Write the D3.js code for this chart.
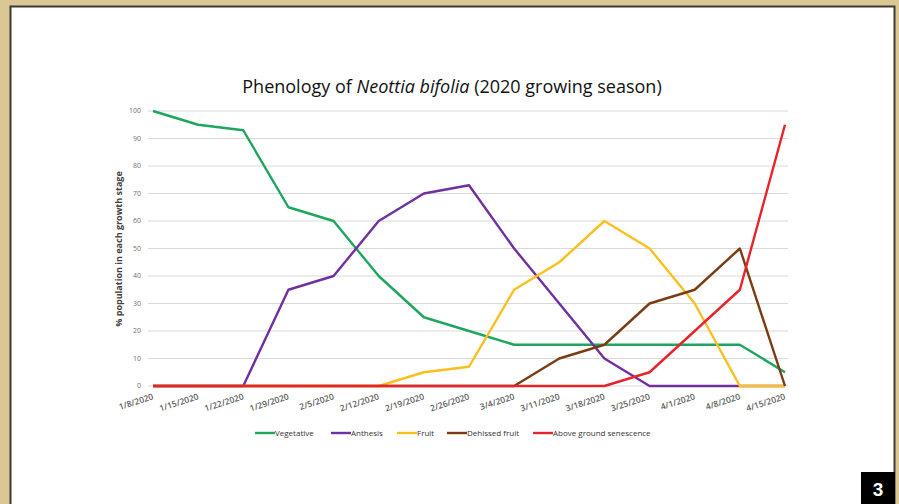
<!DOCTYPE html>
<html>
<head>
<meta charset="utf-8">
<script src="https://cdn.jsdelivr.net/npm/d3@7"></script>
<style>
  body { margin: 0; background: #dbc794; }
  svg { display: block; }
</style>
</head>
<body>
<svg></svg>
<script>
const width = 899;
const height = 504;

// Data
const dates = ["1/8/2020", "1/15/2020", "1/22/2020", "1/29/2020", "2/5/2020", "2/12/2020", "2/19/2020",
    "2/26/2020", "3/4/2020", "3/11/2020", "3/18/2020", "3/25/2020", "4/1/2020", "4/8/2020", "4/15/2020"];
const vegetative = [100, 95, 93, 65, 60, 40, 25, 20, 15, 15, 15, 15, 15, 15, 5];
const anthesis = [0, 0, 0, 35, 40, 60, 70, 73, 50, 30, 10, 0, 0, 0, 0];
const fruit = [0, 0, 0, 0, 0, 0, 5, 7, 35, 45, 60, 50, 30, 0, 0];
const dehisced = [0, 0, 0, 0, 0, 0, 0, 0, 0, 10, 15, 30, 35, 50, 0];
const senescence = [0, 0, 0, 0, 0, 0, 0, 0, 0, 0, 0, 5, 20, 35, 95];
const seriesNames = ["Vegetative", "Anthesis", "Fruit", "Dehissed fruit", "Above ground senescence"];
const yTicks = [0, 10, 20, 30, 40, 50, 60, 70, 80, 90, 100];

const colors = ["#1ea65e", "#7030a0", "#fcbf1e", "#7a3c14", "#e8242b"];
const series = [vegetative, anthesis, fruit, dehisced, senescence];

const svg = d3.select("svg")
    .attr("width", width)
    .attr("height", height);

// white panel with dark edge
svg.append("rect")
    .attr("x", 10.5).attr("y", 6.5)
    .attr("width", 884).attr("height", 500)
    .attr("fill", "#fff")
    .attr("stroke", "#3c3a33")
    .attr("stroke-width", 2);

const x = d3.scalePoint()
    .domain(dates)
    .range([153, 785]);

const y = d3.scaleLinear()
    .domain([0, 100])
    .range([386, 111]);

// gridlines
svg.append("g")
    .selectAll("line")
    .data(yTicks)
    .join("line")
    .attr("x1", 148).attr("x2", 788)
    .attr("y1", d => y(d)).attr("y2", d => y(d))
    .attr("stroke", "#d9d9d9")
    .attr("stroke-width", 1);

// y tick labels
svg.append("g")
    .selectAll("text")
    .data(yTicks)
    .join("text")
    .attr("x", 141)
    .attr("y", d => y(d))
    .attr("dy", "0.35em")
    .attr("text-anchor", "end")
    .attr("font-family", "Open Sans, sans-serif")
    .attr("font-size", 7)
    .attr("fill", "#6f6f6f")
    .text(d => d);

// x tick labels, slanted
svg.append("g")
    .selectAll("text")
    .data(dates)
    .join("text")
    .attr("transform", d => `translate(${x(d) + 1},${399}) rotate(-18)`)
    .attr("text-anchor", "end")
    .attr("font-family", "Open Sans, sans-serif")
    .attr("font-size", 8.5)
    .attr("font-weight", 600)
    .attr("fill", "#595959")
    .text(d => d);

// axis title
svg.append("text")
    .attr("transform", `translate(122,249) rotate(-90)`)
    .attr("text-anchor", "middle")
    .attr("font-family", "Open Sans, sans-serif")
    .attr("font-size", 9)
    .attr("font-weight", "bold")
    .attr("fill", "#404040")
    .text("% population in each growth stage");

// chart title
const title = svg.append("text")
    .attr("x", 452)
    .attr("y", 93)
    .attr("text-anchor", "middle")
    .attr("font-family", "Open Sans, sans-serif")
    .attr("font-size", 18)
    .attr("fill", "#111");
title.append("tspan").text("Phenology of ");
title.append("tspan").attr("font-style", "italic").text("Neottia bifolia");
title.append("tspan").text(" (2020 growing season)");

// lines, drawn so red sits on top
const line = d3.line()
    .x((d, i) => x(dates[i]))
    .y(d => y(d));

svg.append("g")
    .selectAll("path")
    .data(series)
    .join("path")
    .attr("d", d => line(d))
    .attr("fill", "none")
    .attr("stroke", (d, i) => colors[i])
    .attr("stroke-width", 2.4)
    .attr("stroke-linejoin", "round");

// legend
const legendX = [255, 331, 397, 447, 533];
const legend = svg.append("g")
    .selectAll("g")
    .data(seriesNames)
    .join("g")
    .attr("transform", (d, i) => `translate(${legendX[i]},433)`);

legend.append("line")
    .attr("x1", 0).attr("x2", 20)
    .attr("stroke", (d, i) => colors[i])
    .attr("stroke-width", 2.4);

legend.append("text")
    .attr("x", 20)
    .attr("dy", "0.35em")
    .attr("font-family", "Open Sans, sans-serif")
    .attr("font-size", 8)
    .attr("fill", "#333")
    .text(d => d);

// figure number badge
svg.append("rect")
    .attr("x", 861).attr("y", 472)
    .attr("width", 34).attr("height", 32)
    .attr("fill", "#000");
svg.append("text")
    .attr("x", 878).attr("y", 496)
    .attr("text-anchor", "middle")
    .attr("font-family", "Liberation Sans, Arial, sans-serif")
    .attr("font-weight", "bold")
    .attr("font-size", 19)
    .attr("fill", "#fff")
    .text("3");
</script>
</body>
</html>
